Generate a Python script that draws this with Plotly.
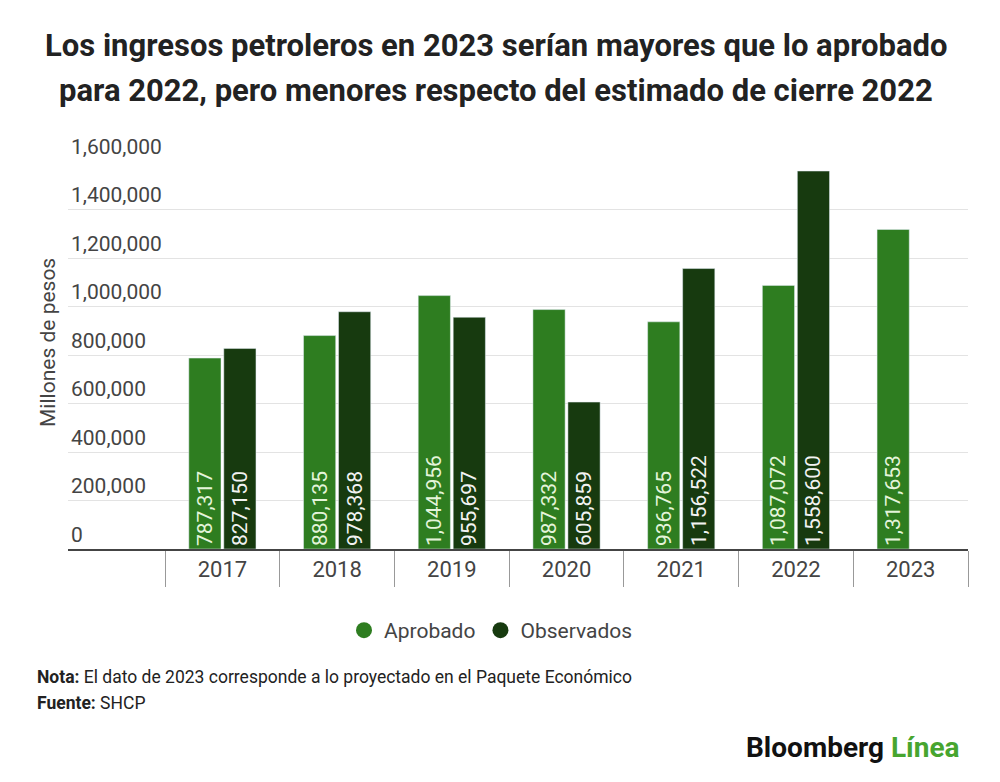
import plotly.graph_objects as go

years = ["2017", "2018", "2019", "2020", "2021", "2022", "2023"]
aprobado = [787317, 880135, 1044956, 987332, 936765, 1087072, 1317653]
observados = [827150, 978368, 955697, 605859, 1156522, 1558600, None]
y_ticks = [0, 200000, 400000, 600000, 800000, 1000000, 1200000, 1400000, 1600000]

C_APR = "#2e7d20"
C_OBS = "#173a0f"
FONT = "Roboto"

def fmt(v):
    return "" if v is None else f"{v:,}"

fig = go.Figure()
fig.add_trace(go.Bar(
    x=years, y=aprobado, name="Aprobado", marker_color=C_APR,
    text=[fmt(v) for v in aprobado], textposition="inside", insidetextanchor="start",
    textangle=-90, textfont=dict(family=FONT, size=21, color="#e4f4da"),
    showlegend=False, cliponaxis=False,
))
fig.add_trace(go.Bar(
    x=years, y=observados, name="Observados", marker_color=C_OBS,
    text=[fmt(v) for v in observados], textposition="inside", insidetextanchor="start",
    textangle=-90, textfont=dict(family=FONT, size=21, color="#f2f2f2"),
    showlegend=False, cliponaxis=False,
))
# legend entries with circular markers
fig.add_trace(go.Scatter(x=[None], y=[None], mode="markers", name="Aprobado",
                         marker=dict(color=C_APR, size=19, symbol="circle")))
fig.add_trace(go.Scatter(x=[None], y=[None], mode="markers", name="Observados",
                         marker=dict(color=C_OBS, size=19, symbol="circle")))

fig.update_layout(
    width=1000, height=782,
    paper_bgcolor="white", plot_bgcolor="white",
    margin=dict(l=60, r=40, t=153, b=241, autoexpand=False),
    barmode="group", bargap=0.39, bargroupgap=0.08,
    font=dict(family=FONT, color="#444"),
    uniformtext=dict(minsize=8),
    legend=dict(orientation="h", x=0.47, xanchor="center", y=-0.21, yanchor="middle",
                font=dict(family=FONT, size=21, color="#444"), itemsizing="trace",
                traceorder="normal"),
    xaxis=dict(
        type="category", range=[-1.346, 6.5], automargin=False,
        tickson="boundaries", ticks="outside", ticklen=36, tickcolor="#999", tickwidth=1,
        showline=True, linecolor="#444", linewidth=2,
        tickfont=dict(family=FONT, size=22, color="#444"),
        showgrid=False,
    ),
    yaxis=dict(
        range=[0, 1600000], tickvals=y_ticks, tickformat=",d", automargin=False,
        ticklabelposition="inside top", ticklabeloverflow="allow",
        showgrid=True, gridcolor="#e3e3e3", gridwidth=1,
        zeroline=False, showline=False,
        tickfont=dict(family=FONT, size=21, color="#444"),
    ),
)

fig.add_annotation(text="<b>Los ingresos petroleros en 2023 serían mayores que lo aprobado</b>",
                   xref="paper", yref="paper", x=0.476, y=1.0, xanchor="center", yanchor="middle",
                   font=dict(family=FONT, size=31, color="#222"), showarrow=False,
                   yshift=161 - 45)
fig.add_annotation(text="<b>para 2022, pero menores respecto del estimado de cierre 2022</b>",
                   xref="paper", yref="paper", x=0.476, y=1.0, xanchor="center", yanchor="middle",
                   font=dict(family=FONT, size=31, color="#222"), showarrow=False,
                   yshift=161 - 90)
fig.add_annotation(text="Millones de pesos", textangle=-90,
                   xref="paper", yref="paper", x=0, y=0.531, xanchor="center", yanchor="middle",
                   xshift=-20, font=dict(family=FONT, size=21, color="#444"), showarrow=False)
fig.add_annotation(text="<b>Nota:</b> El dato de 2023 corresponde a lo proyectado en el Paquete Económico",
                   xref="paper", yref="paper", x=0, y=0, xanchor="left", yanchor="middle",
                   xshift=-33, yshift=549 - 677, font=dict(family=FONT, size=17.5, color="#222"),
                   showarrow=False)
fig.add_annotation(text="<b>Fuente:</b> SHCP",
                   xref="paper", yref="paper", x=0, y=0, xanchor="left", yanchor="middle",
                   xshift=-33, yshift=549 - 703, font=dict(family=FONT, size=17.5, color="#222"),
                   showarrow=False)
fig.add_annotation(text="<b>Bloomberg</b> <b><span style='color:#47a52f'>Línea</span></b>",
                   xref="paper", yref="paper", x=1, y=0, xanchor="right", yanchor="middle",
                   xshift=-6, yshift=549 - 747, font=dict(family=FONT, size=28, color="#111"),
                   showarrow=False)

fig.write_html("out.html")
